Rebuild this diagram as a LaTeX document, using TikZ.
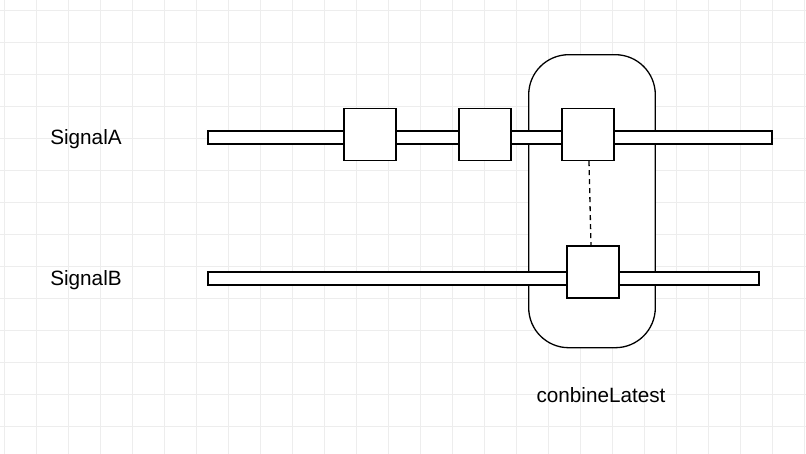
\documentclass[tikz,border=0pt]{standalone}
\usepackage{fontspec}
\setmainfont{Liberation Sans}
\tikzset{
  gridline/.style={draw=black!7, line width=0.9pt},
  bar/.style={draw=black, fill=white, line width=1.3pt, inner sep=0pt, minimum height=13pt},
  tick/.style={draw=black, fill=white, line width=1.3pt, inner sep=0pt, minimum width=52pt, minimum height=52pt},
  label/.style={font=\fontsize{20.7}{24}\selectfont, inner sep=0pt}
}
\begin{document}
\begin{tikzpicture}[x=1pt, y=-1pt]
        \useasboundingbox (0,0) rectangle (806,454);
        \fill[white] (0,0) rectangle (806,454);

        % background grid
        \foreach \gx in {4,36,...,804}
            \draw[gridline] (\gx,0) -- (\gx,454);
        \foreach \gy in {10,42,...,454}
            \draw[gridline] (0,\gy) -- (806,\gy);

        % combineLatest window
        \node[draw=black, fill=white, line width=1.3pt, rounded corners=40pt, minimum width=126.6pt, minimum height=293pt, inner sep=0pt] (window) at (592,201.2) {};

        % signal lines
        \node[bar, minimum width=564pt] (barA) at (490,137.5) {};
        \node[bar, minimum width=551pt] (barB) at (483.5,278.5) {};

        % values
        \node[tick] (valA1) at (370,134.5) {};
        \node[tick] (valA2) at (485,134.5) {};
        \node[tick] (valA3) at (588,134.5) {};
        \node[tick] (valB1) at (593,272) {};

        \draw[line width=1.3pt, dash pattern=on 5pt off 4pt] ([xshift=1pt]valA3.south) -- ([xshift=-2pt]valB1.north);

        \node[label] (sigA) at (86,139) {SignalA};
        \node[label] (sigB) at (86,280) {SignalB};
        \node[label] (combine) at (601,395) {conbineLatest};
    \end{tikzpicture}
\end{document}
